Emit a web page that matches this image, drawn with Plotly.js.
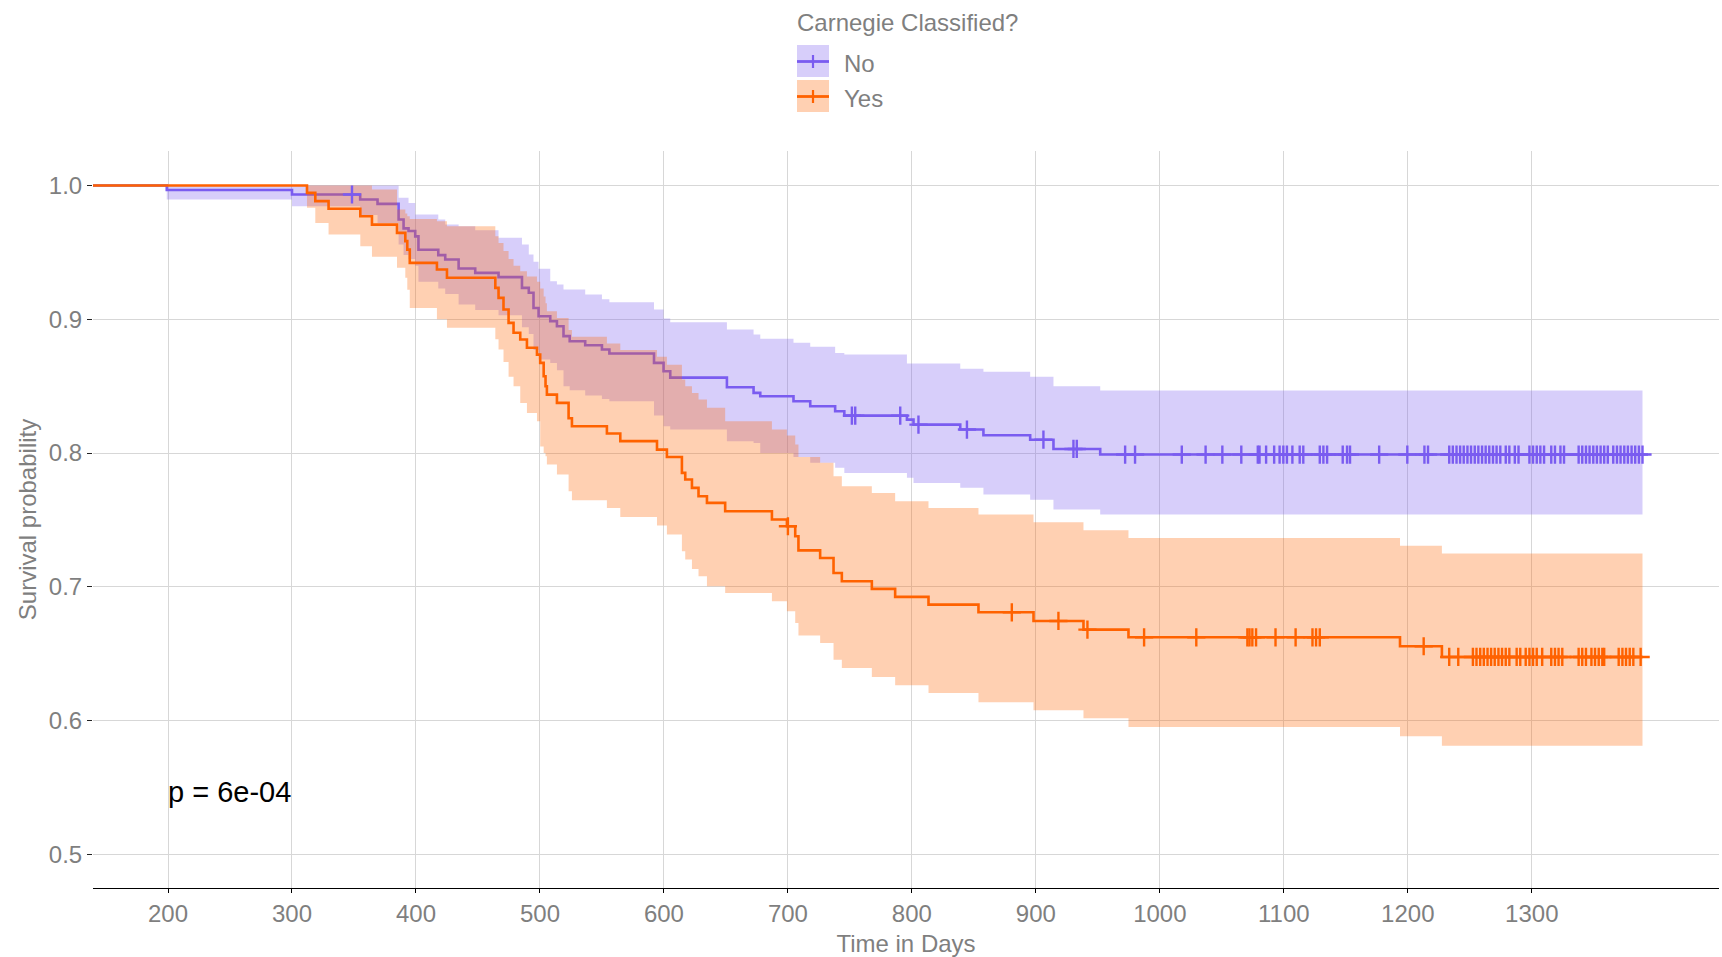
<!DOCTYPE html>
<html>
<head>
<meta charset="utf-8">
<script src="https://cdn.plot.ly/plotly-3.0.1.min.js"></script>
<style>
  html, body { margin: 0; padding: 0; background: #ffffff; }
  #chart { width: 1722px; height: 957px; }
</style>
</head>
<body>
<div id="chart"></div>
<script>
// ---------------- DATA ----------------
const groupNames = ["No", "Yes"];
const legendTitle = "Carnegie Classified?";
const pValueText = "p = 6e-04";
const xTitle = "Time in Days";
const yTitle = "Survival probability";
const xTicks = [200, 300, 400, 500, 600, 700, 800, 900, 1000, 1100, 1200, 1300];
const yTicks = [0.5, 0.6, 0.7, 0.8, 0.9, 1.0];

// Group "No"
const noTime  = [0, 199, 300, 355, 369, 386, 390, 394, 399.4, 402, 418, 423.6, 434.4, 447.8, 466.6, 485.5, 491, 494.8, 498.9, 508.3, 513.7, 519, 524, 536.5, 550, 556, 592, 599.7, 605.1, 650.8, 672.3, 677.7, 704.5, 718, 738.1, 745.5, 796, 801.3, 839, 857.7, 895.4, 914.2, 951.9, 1389.3];
const noSurv  = [1, 0.9967, 0.9933, 0.9895, 0.9863, 0.9746, 0.968, 0.966, 0.962, 0.952, 0.948, 0.9447, 0.938, 0.9347, 0.9315, 0.9235, 0.9198, 0.9085, 0.9023, 0.8985, 0.8948, 0.8874, 0.8836, 0.8806, 0.8774, 0.8744, 0.8674, 0.8612, 0.8564, 0.8492, 0.845, 0.8425, 0.8387, 0.835, 0.8313, 0.828, 0.825, 0.8213, 0.8176, 0.8133, 0.81, 0.8031, 0.7989, 0.7989];
const noUpper = [1, 1, 1, 1, 1, 0.9908, 0.9908, 0.987, 0.9783, 0.9783, 0.9746, 0.9708, 0.9696, 0.9665, 0.9609, 0.9559, 0.9484, 0.943, 0.9377, 0.9285, 0.926, 0.9222, 0.9222, 0.9185, 0.915, 0.9128, 0.9073, 0.9006, 0.8978, 0.8923, 0.8886, 0.8854, 0.8824, 0.8794, 0.8749, 0.8736, 0.8669, 0.8669, 0.863, 0.8607, 0.857, 0.85, 0.8467, 0.8467];
const noLower = [1, 0.9895, 0.9845, 0.978, 0.972, 0.956, 0.948, 0.945, 0.94, 0.928, 0.923, 0.919, 0.911, 0.907, 0.903, 0.894, 0.889, 0.877, 0.870, 0.8674, 0.862, 0.85, 0.847, 0.843, 0.8405, 0.8387, 0.828, 0.82, 0.8176, 0.8089, 0.8075, 0.8001, 0.7971, 0.7927, 0.789, 0.7852, 0.7815, 0.7777, 0.774, 0.769, 0.7652, 0.7578, 0.754, 0.754];
const noCensor = [348.4, 751.6, 754.3, 790.6, 805.3, 844.4, 906.1, 930.3, 933, 972, 980, 1017.7, 1036.9, 1050.4, 1065.7, 1079, 1080.4, 1085.7, 1092.2, 1096.6, 1099.6, 1102.5, 1106.9, 1112.8, 1115.7, 1129, 1131.9, 1134.9, 1147.5, 1151, 1153.4, 1176.9, 1199.6, 1213.4, 1216.3, 1233.4, 1236.3, 1239.3, 1242.2, 1245.1, 1248.1, 1251, 1254, 1256.9, 1259.9, 1262.8, 1265.7, 1268.7, 1271.6, 1274.6, 1279, 1281.9, 1286.3, 1289.3, 1298.1, 1301, 1304, 1306.9, 1309.9, 1315.7, 1318.7, 1323.1, 1326, 1337.8, 1340.7, 1343.7, 1346.6, 1349.6, 1352.5, 1355.5, 1358.4, 1361.3, 1365.7, 1368.7, 1371.6, 1374.6, 1377.5, 1380.5, 1383.4, 1386.4, 1389.3];

// Group "Yes"
const yesTime  = [0, 312.1, 318.8, 329.5, 355.1, 364.5, 384.7, 391.4, 393, 395, 416.9, 425, 464, 466.6, 470.6, 474.7, 478.7, 484.1, 489.5, 497.6, 500.2, 503, 504.5, 505.6, 513.7, 523.1, 525.8, 554, 564.8, 594.4, 602.4, 614.5, 617.2, 622.6, 627.9, 634.7, 649.4, 687.1, 699.2, 705.9, 708.5, 726, 736.8, 743.5, 767.7, 786.5, 813.4, 853.7, 898.1, 938.4, 974.7, 1193.7, 1227.5, 1389.3];
const yesSurv  = [1, 0.9945, 0.9883, 0.9826, 0.977, 0.9708, 0.9646, 0.9584, 0.9521, 0.9422, 0.9372, 0.931, 0.9235, 0.916, 0.9073, 0.8973, 0.8899, 0.8849, 0.8787, 0.8736, 0.8674, 0.8574, 0.85, 0.8437, 0.8375, 0.826, 0.82, 0.8146, 0.8089, 0.8026, 0.7971, 0.7852, 0.7802, 0.774, 0.7677, 0.7628, 0.7565, 0.7503, 0.7453, 0.7378, 0.7273, 0.7216, 0.7104, 0.7042, 0.6985, 0.6925, 0.6867, 0.681, 0.6745, 0.668, 0.6623, 0.6556, 0.6476, 0.6476];
const yesUpper = [1, 1, 1, 1, 1, 0.997, 0.982, 0.979, 0.977, 0.975, 0.9733, 0.9696, 0.962, 0.957, 0.951, 0.945, 0.940, 0.936, 0.932, 0.928, 0.923, 0.917, 0.912, 0.906, 0.901, 0.892, 0.887, 0.882, 0.877, 0.872, 0.866, 0.855, 0.85, 0.845, 0.84, 0.8338, 0.8238, 0.8176, 0.8131, 0.8064, 0.7971, 0.7927, 0.7827, 0.7752, 0.7702, 0.764, 0.759, 0.754, 0.7483, 0.7423, 0.7366, 0.7308, 0.7249, 0.7249];
const yesLower = [1, 0.9833, 0.972, 0.9634, 0.9546, 0.9467, 0.9385, 0.931, 0.922, 0.9085, 0.9, 0.8936, 0.885, 0.8774, 0.868, 0.857, 0.85, 0.8375, 0.83, 0.8238, 0.805, 0.8, 0.7976, 0.7914, 0.7839, 0.7714, 0.7647, 0.759, 0.7523, 0.7458, 0.7391, 0.7266, 0.7204, 0.7134, 0.7079, 0.7004, 0.6955, 0.6892, 0.6817, 0.673, 0.6636, 0.6581, 0.6456, 0.6394, 0.6327, 0.6264, 0.6207, 0.6137, 0.6077, 0.6017, 0.5953, 0.5883, 0.5813, 0.5813];
const yesCensor = [700, 880.6, 918.2, 941.6, 987.3, 1029.4, 1070.6, 1072.3, 1074.6, 1077.6, 1093.3, 1109.5, 1123.1, 1126, 1129, 1212.8, 1233.4, 1240.7, 1252.5, 1255.4, 1258.4, 1261.3, 1264.3, 1267.2, 1270.1, 1273.1, 1276, 1279, 1281.9, 1287.8, 1290.7, 1295.1, 1298.1, 1301, 1304, 1308.4, 1315.7, 1318.7, 1321.6, 1324.6, 1337.8, 1340.7, 1343.7, 1348.1, 1351, 1354, 1356.9, 1358.4, 1370.1, 1373.1, 1376, 1379, 1381.9, 1387.8];

// ---------------- STYLE ----------------
const lineColors = ["#7a5cf0", "#ff6200"];
const fillColors = ["rgba(122,92,240,0.3)", "rgba(255,98,0,0.3)"];
const textGray = "#7f7f7f";
const FONT = "Liberation Sans, Arial, sans-serif";

const W = 1722, H = 957;
const ML = 93, MR = 3, MT = 151, MB = 69;
const PW = W - ML - MR, PH = H - MT - MB;
const px = X => (X - ML) / PW;
const py = Y => (H - MB - Y) / PH;

function stepAt(times, vals, t) {
  let v = vals[0];
  for (let i = 0; i < times.length; i++) { if (times[i] <= t) v = vals[i]; else break; }
  return v;
}

const groups = [
  {time: noTime, surv: noSurv, upper: noUpper, lower: noLower, cens: noCensor},
  {time: yesTime, surv: yesSurv, upper: yesUpper, lower: yesLower, cens: yesCensor}
];

const traces = [];
groups.forEach((g, i) => {
  traces.push({x: g.time, y: g.upper, type: 'scatter', mode: 'lines',
    line: {shape: 'hv', width: 0, color: fillColors[i]}, hoverinfo: 'skip', showlegend: false});
  traces.push({x: g.time, y: g.lower, type: 'scatter', mode: 'lines', fill: 'tonexty',
    fillcolor: fillColors[i], line: {shape: 'hv', width: 0, color: fillColors[i]}, hoverinfo: 'skip', showlegend: false});
  traces.push({x: g.time, y: g.surv, type: 'scatter', mode: 'lines', name: groupNames[i],
    line: {shape: 'hv', width: 2.6, color: lineColors[i]}, showlegend: false});
});
groups.forEach((g, i) => {
  traces.push({x: g.cens, y: g.cens.map(t => stepAt(g.time, g.surv, t)), type: 'scatter', mode: 'markers',
    marker: {symbol: 'cross-thin', size: 13, color: lineColors[i], line: {width: 2.4, color: lineColors[i]}},
    showlegend: false, hoverinfo: 'x+y'});
});

// ---------------- MANUAL LEGEND ----------------
const shapes = [];
const annotations = [];
const boxTop = [45, 80];
groupNames.forEach((name, i) => {
  const top = boxTop[i], bot = top + 32, mid = top + 16.5;
  shapes.push({type: 'rect', xref: 'paper', yref: 'paper', x0: px(797), x1: px(829), y0: py(bot), y1: py(top),
    fillcolor: fillColors[i], line: {width: 0}});
  shapes.push({type: 'line', xref: 'paper', yref: 'paper', x0: px(797), x1: px(829), y0: py(mid), y1: py(mid),
    line: {color: lineColors[i], width: 2.8}});
  shapes.push({type: 'line', xref: 'paper', yref: 'paper', x0: px(813), x1: px(813), y0: py(mid - 6.5), y1: py(mid + 6.5),
    line: {color: lineColors[i], width: 2.2}});
  annotations.push({xref: 'paper', yref: 'paper', x: px(842), y: py(mid + 2), xanchor: 'left', yanchor: 'middle',
    text: name, showarrow: false, font: {family: FONT, size: 24, color: textGray}});
});
annotations.push({xref: 'paper', yref: 'paper', x: px(795), y: py(22), xanchor: 'left', yanchor: 'middle',
  text: legendTitle, showarrow: false, font: {family: FONT, size: 24, color: textGray}});
annotations.push({xref: 'x', yref: 'y', x: 198, y: 0.547, xanchor: 'left', yanchor: 'middle',
  text: pValueText, showarrow: false, font: {family: FONT, size: 29, color: '#000000'}});

const layout = {
  width: W, height: H,
  margin: {l: ML, r: MR, t: MT, b: MB, pad: 0},
  paper_bgcolor: '#ffffff', plot_bgcolor: '#ffffff',
  font: {family: FONT, color: textGray},
  showlegend: false,
  xaxis: {
    range: [139.5, 1451], tickvals: xTicks, ticktext: xTicks.map(String),
    showgrid: true, gridcolor: '#d7d7d7', gridwidth: 1.3, zeroline: false,
    showline: true, linecolor: '#000000', linewidth: 1.3,
    ticks: 'outside', ticklen: 4, tickwidth: 1.2, tickcolor: '#000000',
    tickfont: {family: FONT, size: 24, color: textGray},
    title: {text: xTitle, font: {family: FONT, size: 24, color: textGray}, standoff: 10}
  },
  yaxis: {
    range: [0.4749, 1.0258], tickvals: yTicks, ticktext: yTicks.map(v => v.toFixed(1)),
    showgrid: true, gridcolor: '#d7d7d7', gridwidth: 1.3, zeroline: false, showline: false,
    ticks: 'outside', ticklen: 5, tickwidth: 1.2, tickcolor: '#222222',
    tickfont: {family: FONT, size: 24, color: textGray},
    title: {text: yTitle, font: {family: FONT, size: 24, color: textGray}, standoff: 5}
  },
  shapes: shapes,
  annotations: annotations
};

Plotly.newPlot('chart', traces, layout, {displayModeBar: false, responsive: false});
</script>
</body>
</html>
